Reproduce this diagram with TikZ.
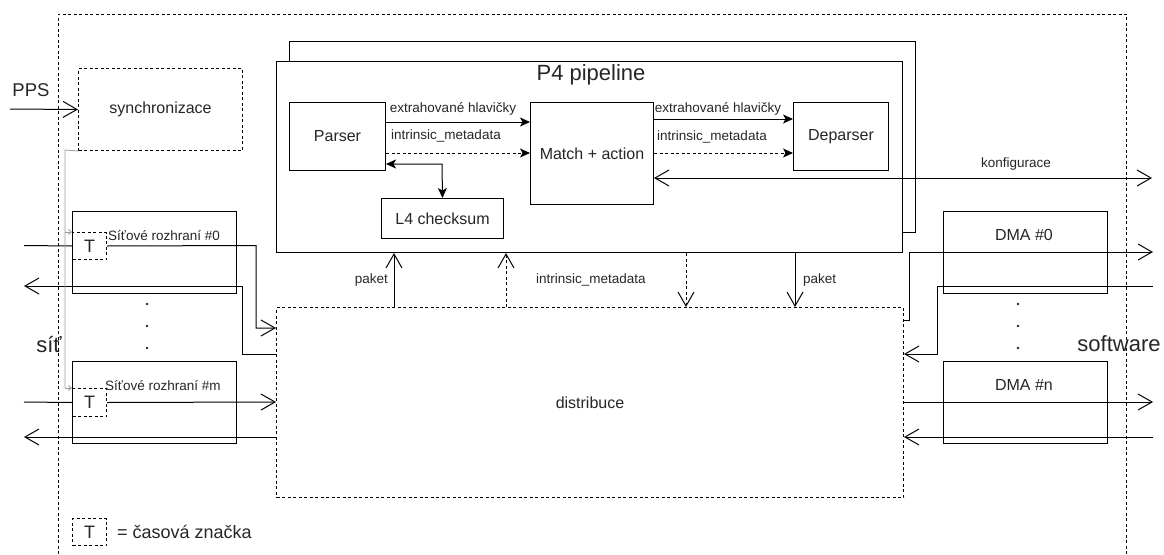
\documentclass[tikz,border=0pt]{standalone}
\usepackage{fontspec}
\setmainfont{Liberation Sans}
\usetikzlibrary{arrows.meta,calc}
\newcommand\fmain{\fontsize{16}{19}\selectfont}
\newcommand\fsmall{\fontsize{13.5}{16}\selectfont}
\newcommand\fbig{\fontsize{22}{26}\selectfont}
\newcommand\fmid{\fontsize{18}{22}\selectfont}
\tikzset{
  base/.style={line width=1pt, draw=black},
  box/.style={base, rectangle, inner sep=0pt, anchor=north west, fill=white, font=\fmain, text=black!85},
  dbox/.style={box, dash pattern=on 3pt off 2.5pt},
  dashln/.style={dash pattern=on 3pt off 2.5pt},
  oarrow/.style={base, -{Straight Barb[length=14pt,width=16pt]}},
  oarrows/.style={base, {Straight Barb[length=14pt,width=16pt]}-{Straight Barb[length=14pt,width=16pt]}},
  farrow/.style={base, -{Stealth[length=10pt,width=9pt,inset=2.5pt]}},
  farrows/.style={base, {Stealth[length=10pt,width=9pt,inset=2.5pt]}-{Stealth[length=10pt,width=9pt,inset=2.5pt]}},
  syncln/.style={line width=0.8pt, draw=black!40, -{Straight Barb[length=3pt,width=5pt]}},
  lbl/.style={inner sep=0pt, font=\fsmall, text=black!85},
  mlbl/.style={inner sep=0pt, font=\fmain, text=black!85},
  dot/.style={circle, fill=black!85, inner sep=0pt, minimum size=2.8pt},
}
\begin{document}
\begin{tikzpicture}[x=1pt,y=-1pt]
\useasboundingbox (0,0) rectangle (1164,554);
% outer frame
\draw[base, dashln] (58,554) -- (58,14) -- (1126,14) -- (1126,554);

% synchronizace
\node[dbox, minimum width=164pt, minimum height=82pt] (sync) at (78,68) {synchronizace};
\coordinate (ppsin) at (10,109);
\draw[oarrow] (ppsin) -- (sync.west);
\node[inner sep=0pt, font=\fontsize{18.5}{22}\selectfont, text=black!85] (pps) at (31,90) {PPS};

% P4 pipeline
\node[box, minimum width=626pt, minimum height=191pt] (p4back) at (289,41) {};
\node[box, minimum width=626pt, minimum height=191pt] (p4) at (276,61) {};
\node[inner sep=0pt, font=\fbig, text=black!85] (p4title) at (591,75) {P4 pipeline};
\node[box, minimum width=96pt, minimum height=68pt] (parser) at (289,102) {Parser};
\node[box, minimum width=123pt, minimum height=102pt] (match) at (530,102) {Match + action};
\node[box, minimum width=95pt, minimum height=68pt] (deparser) at (793,102) {Deparser};
\node[box, minimum width=122pt, minimum height=40pt] (l4) at (381,198) {L4 checksum};

\draw[farrow] ($(parser.north east)+(0,20)$) -- ($(match.north west)+(0,20)$);
\draw[farrow, dashln] ($(parser.north east)+(0,51)$) -- ($(match.north west)+(0,51)$);
\node[lbl] (l1) at (453,109) {extrahované hlavičky};
\node[lbl] (l2) at (446,136) {intrinsic\_metadata};
\draw[farrow] ($(match.north east)+(0,17)$) -- ($(deparser.north west)+(0,17)$);
\draw[farrow, dashln] ($(match.north east)+(0,51)$) -- ($(deparser.north west)+(0,51)$);
\node[lbl] (l3) at (718,109) {extrahované hlavičky};
\node[lbl] (l4l) at (712,137) {intrinsic\_metadata};
\draw[farrows] ($(parser.north east)+(0,62)$) -- (442,164) -- (l4.north);

% konfigurace
\coordinate (konf) at (1152,178);
\draw[oarrows] ($(match.north east)+(0,76)$) -- (konf);
\node[lbl] (konfl) at (1016,164) {konfigurace};

% distribuce
\node[dbox, minimum width=627pt, minimum height=190pt] (distrib) at (276,307) {distribuce};

\draw[oarrow] ($(distrib.north west)+(118,0)$) -- ($(p4.south west)+(118,0)$);
\draw[oarrow, dashln] ($(distrib.north west)+(230,0)$) -- ($(p4.south west)+(230,0)$);
\draw[oarrow, dashln] ($(p4.south west)+(410,0)$) -- ($(distrib.north west)+(410,0)$);
\draw[oarrow] ($(p4.south west)+(519,0)$) -- ($(distrib.north west)+(519,0)$);
\node[lbl, anchor=east] (pk1) at (388,280) {paket};
\node[lbl, anchor=west] (im) at (536,280) {intrinsic\_metadata};
\node[lbl, anchor=west] (pk2) at (803,280) {paket};

% network interfaces
\node[box, minimum width=164pt, minimum height=82pt] (if0) at (72,211) {};
\node[dbox, minimum width=34pt, minimum height=27pt, font=\fmid] (t0) at (72,232) {T};
\node[lbl, anchor=west] (if0l) at (108,236) {Síťové rozhraní \#0};
\node[box, minimum width=164pt, minimum height=82pt] (ifm) at (72,361) {};
\node[dbox, minimum width=34pt, minimum height=28pt, font=\fmid] (tm) at (72,388) {T};
\node[lbl, anchor=west] (ifml) at (105,386) {Síťové rozhraní \#m};

\node[dot] (d1) at (147,304) {};
\node[dot] (d2) at (147,326) {};
\node[dot] (d3) at (147,348) {};

\coordinate (n0in) at (24,245.5);
\coordinate (n0out) at (24,286);
\coordinate (nmin) at (24,402);
\coordinate (nmout) at (24,437);
\draw[base] (n0in) -- (t0.west);
\draw[oarrow] (t0.east) -- (256,245.5) -- (256,328) -- ($(distrib.north west)+(0,21)$);
\draw[oarrow] ($(distrib.north west)+(0,47)$) -- (242,354) -- (242,286) -- (n0out);
\draw[base] (nmin) -- (tm.west);
\draw[oarrow] (tm.east) -- ($(distrib.north west)+(0,95)$);
\draw[oarrow] ($(distrib.north west)+(0,130)$) -- (nmout);

% sync lines
\coordinate (sj) at (65,150);
\draw[line width=0.8pt, draw=black!40] (sync.south west) -- (sj) -- (65,388);
\draw[syncln] (65,232) -- (t0.north west);
\draw[syncln] (65,388) -- (tm.north west);

\node[inner sep=0pt, font=\fbig, text=black!85] (sit) at (49,345) {síť};

% DMA
\node[box, minimum width=164pt, minimum height=82pt] (dma0) at (943,211) {};
\node[mlbl] (dma0l) at (1024,235) {DMA \#0};
\node[box, minimum width=164pt, minimum height=82pt] (haman) at (943,361) {};
\node[mlbl] (dmanl) at (1024,385) {DMA \#n};
\node[dot] (e1) at (1018,304) {};
\node[dot] (e2) at (1018,326) {};
\node[dot] (e3) at (1018,348) {};

\coordinate (d0out) at (1153,252);
\coordinate (d0in) at (1153,286);
\coordinate (dnout) at (1153,402);
\coordinate (dnin) at (1153,437);
\draw[oarrow] ($(distrib.north east)+(0,13)$) -- (909,320) -- (909,252) -- (d0out);
\draw[oarrow] (d0in) -- (937,286) -- (937,354) -- ($(distrib.north east)+(0,47)$);
\draw[oarrow] ($(distrib.north east)+(0,95)$) -- (dnout);
\draw[oarrow] (dnin) -- ($(distrib.north east)+(0,130)$);

\node[inner sep=0pt, font=\fbig, text=black!85] (sw) at (1119,344) {software};

% legend
\node[dbox, minimum width=34pt, minimum height=27pt, font=\fmid] (tl) at (72,518) {T};
\node[inner sep=0pt, anchor=west, font=\fmid, text=black!85] (tll) at (117,532) {= časová značka};
\end{tikzpicture}
\end{document}
